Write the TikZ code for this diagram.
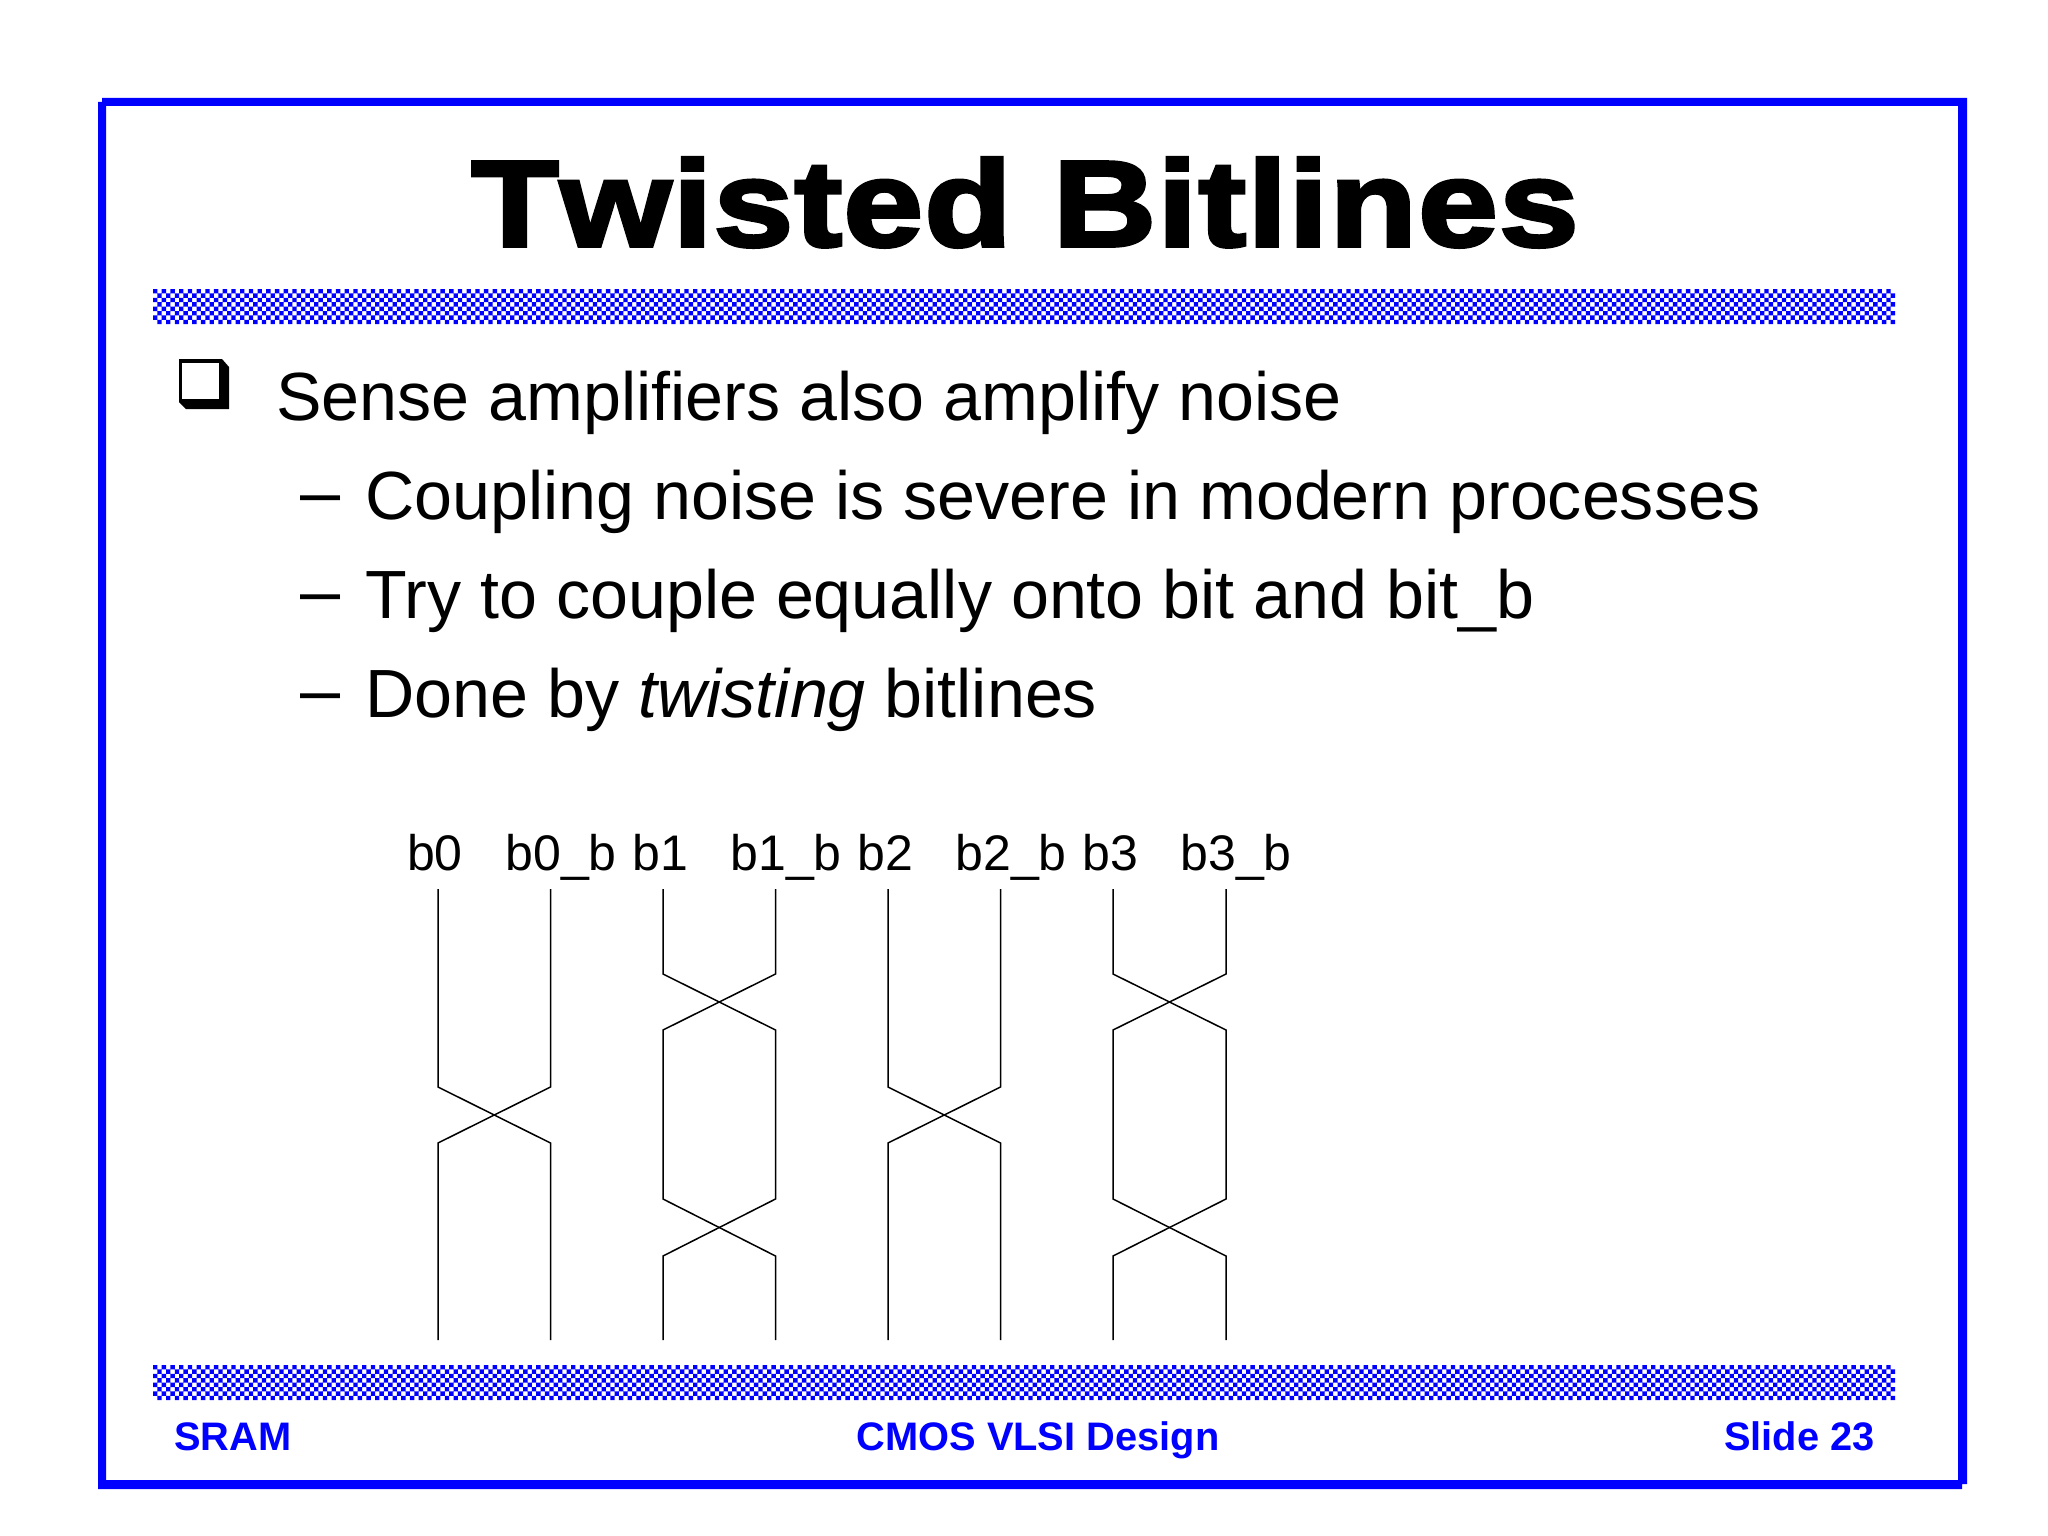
\documentclass[tikz,border=0pt]{standalone}
\usepackage{fontspec}
\setmainfont{Liberation Sans}
\newfontfamily\titlefont[FakeBold=3,FakeStretch=1.174,LetterSpace=1,Kerning=Off]{Liberation Sans Bold}
\definecolor{slideblue}{RGB}{0,0,255}
\tikzset{
  x=1pt,y=-1pt,
  txt/.style={inner sep=0pt,outer sep=0pt,anchor=base west},
  bodytext/.style={txt,font=\fontsize{68.2}{72}\selectfont},
  subtext/.style={txt,font=\fontsize{68.2}{72}\selectfont},
  dashtext/.style={txt,font=\fontsize{72}{76}\selectfont},
  bitlabel/.style={txt,font=\fontsize{50}{54}\selectfont},
  foot/.style={inner sep=0pt,outer sep=0pt,text=slideblue,font=\fontsize{39.8}{46}\selectfont\bfseries},
  wire/.style={draw=black,line width=1.5pt,line join=miter},
}
\begin{document}
\begin{tikzpicture}
\useasboundingbox (0,0) rectangle (2048,1536);
\fill[white] (0,0) rectangle (2048,1536);
% frame
\fill[slideblue,even odd rule]
  (102,98) -- (1967,98) -- (1967,1484) -- (1962,1484) -- (1962,1489) -- (98,1489) -- (98,102) -- (102,102) -- cycle
  (106,106) rectangle (1958,1480);
% checker bars
\foreach \ytop in {289,1365}{
  \fill[slideblue]
  \foreach \i in {0,...,399}{
    \foreach \j in {0,...,7}{
      \pgfextra{\pgfmathtruncatemacro{\ispar}{mod(\i+\j,2)}}
      \ifnum\ispar=0
        ({153+\i*4.355},{\ytop+\j*4.4}) rectangle ++(4.355,4.4)
      \fi
    }
  };
}
% title
\node[inner sep=0pt,outer sep=0pt,anchor=base,font=\fontsize{122}{130}\selectfont\titlefont] (title) at (1025,246) {Twisted Bitlines};
% bullet
\fill[black] (179,359) -- (222,359) -- (229,367) -- (229,409) -- (186,409) -- (179,402) -- cycle;
\fill[white] (182,363) rectangle (219,399);
% texts
\node[bodytext] (l1) at (276.5,420) {Sense amplifiers also amplify noise};
\node[dashtext] (d2) at (300,516) {–};
\node[subtext] (l2) at (365.5,519) {Coupling noise is severe in modern processes};
\node[dashtext] (d3) at (300,615) {–};
\node[subtext] (l3) at (365.5,618) {Try to couple equally onto bit and bit\_b};
\node[dashtext] (d4) at (300,714) {–};
\node[subtext] (l4) at (365.5,717) {Done by \textit{twisting} bitlines};
% bit labels
\node[bitlabel] (b0)  at (407,870) {b0};
\node[bitlabel] (b0b) at (505.5,870) {b0\_b};
\node[bitlabel] (b1)  at (632.5,870) {b1};
\node[bitlabel] (b1b) at (730.5,870) {b1\_b};
\node[bitlabel] (b2)  at (857.5,870) {b2};
\node[bitlabel] (b2b) at (955.5,870) {b2\_b};
\node[bitlabel] (b3)  at (1082.5,870) {b3};
\node[bitlabel] (b3b) at (1180.5,870) {b3\_b};
% wire end points
\foreach \n/\x in {a/438,b/550.5,c/663,d/775.5,e/888,f/1000.5,g/1113,h/1226}{
  \coordinate (\n T) at (\x,889);
  \coordinate (\n 1) at (\x,974);
  \coordinate (\n 2) at (\x,1030);
  \coordinate (\n 3) at (\x,1087);
  \coordinate (\n 4) at (\x,1143);
  \coordinate (\n 5) at (\x,1199);
  \coordinate (\n 6) at (\x,1256);
  \coordinate (\n B) at (\x,1340);
}
% single twist pairs
\draw[wire] (aT) -- (a3) -- (b4) -- (bB);
\draw[wire] (bT) -- (b3) -- (a4) -- (aB);
\draw[wire] (eT) -- (e3) -- (f4) -- (fB);
\draw[wire] (fT) -- (f3) -- (e4) -- (eB);
% double twist pairs
\draw[wire] (cT) -- (c1) -- (d2) -- (d5) -- (c6) -- (cB);
\draw[wire] (dT) -- (d1) -- (c2) -- (c5) -- (d6) -- (dB);
\draw[wire] (gT) -- (g1) -- (h2) -- (h5) -- (g6) -- (gB);
\draw[wire] (hT) -- (h1) -- (g2) -- (g5) -- (h6) -- (hB);
% footer
\node[foot,anchor=base west] (fl) at (174,1450) {SRAM};
\node[foot,anchor=base] (fc) at (1038,1450) {CMOS VLSI Design};
\node[foot,anchor=base east] (fr) at (1874.5,1450) {Slide 23};
\end{tikzpicture}
\end{document}
